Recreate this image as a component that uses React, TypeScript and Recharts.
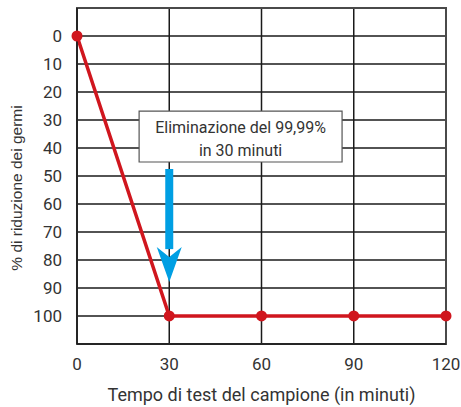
import { LineChart, Line, XAxis, YAxis, CartesianGrid, ReferenceArea, ReferenceLine, Label } from "recharts";

const minutes = [0, 30, 60, 90, 120];
const reduction = [0, 99.99, 99.99, 99.99, 99.99];
const yTicks = [0, 10, 20, 30, 40, 50, 60, 70, 80, 90, 100];
const noteLines = ["Eliminazione del 99,99%", "in 30 minuti"];
const noteBox = { x1: 20.2, x2: 86.2, y1: 26.8, y2: 45 };
const arrowFrom = 47.5;
const arrowTo = 87.9;

const data = minutes.map((m, i) => ({ min: m, pct: reduction[i] }));

const FONT = "Roboto, 'DejaVu Sans', sans-serif";
const RED = "#d0161e";
const BLUE = "#009fe3";

function ArrowShape(props: any) {
  const { x1, y1, x2, y2 } = props;
  if (x1 == null) return null;
  const headLen = 35;
  const headW = 12.5;
  const neck = y2 - headLen;
  return (
    <g>
      <line x1={x1} y1={y1} x2={x2} y2={neck + 2} stroke={BLUE} strokeWidth={8} />
      <path
        d={`M${x2 - headW},${neck} L${x2},${neck + 10} L${x2 + headW},${neck} L${x2},${y2} Z`}
        fill={BLUE}
      />
    </g>
  );
}

function NoteLabel(props: any) {
  const vb = props.viewBox;
  if (!vb) return null;
  const cx = vb.x + vb.width / 2;
  const cy = vb.y + vb.height / 2;
  return (
    <text x={cx} textAnchor="middle" fontFamily={FONT} fontSize={16} fill="#333">
      <tspan x={cx} y={cy - 4}>{noteLines[0]}</tspan>
      <tspan x={cx} y={cy + 19}>{noteLines[1]}</tspan>
    </text>
  );
}

function YTitle(props: any) {
  const vb = props.viewBox;
  if (!vb) return null;
  const x = vb.x + 16;
  const y = vb.y + vb.height / 2 + 12;
  return (
    <text
      x={x}
      y={y}
      transform={`rotate(-90, ${x}, ${y})`}
      textAnchor="middle"
      dominantBaseline="central"
      fontFamily="'Liberation Sans', Arial, sans-serif"
      fontSize={15.5}
      fill="#333"
    >
      % di riduzione dei germi
    </text>
  );
}

export default function App() {
  return (
    <div style={{ position: "absolute", left: 0, top: 0, background: "#fff" }}>
      <LineChart width={461} height={407} data={data} margin={{ top: 8, right: 15, left: 0, bottom: 0 }}>
        <CartesianGrid stroke="#1a1a1a" strokeWidth={1.5} />
        <ReferenceArea x1={0} x2={120} y1={-10} y2={110} fill="none" stroke="#4a4a4a" strokeWidth={2} ifOverflow="visible" />
        <XAxis
          dataKey="min"
          type="number"
          domain={[0, 120]}
          ticks={minutes}
          height={63}
          tickSize={0}
          tickMargin={14}
          axisLine={{ stroke: "#1a1a1a", strokeWidth: 1.5 }}
          tick={{ fontSize: 17, fill: "#333", fontFamily: FONT }}
        >
          <Label
            value="Tempo di test del campione (in minuti)"
            position="insideBottom"
            offset={6}
            style={{ fontSize: 18, fill: "#333", fontFamily: FONT }}
          />
        </XAxis>
        <YAxis
          type="number"
          reversed
          domain={[-10, 110]}
          ticks={yTicks}
          interval={0}
          width={77}
          tickSize={0}
          tickMargin={15}
          axisLine={{ stroke: "#1a1a1a", strokeWidth: 1.5 }}
          tick={{ fontSize: 17, fill: "#333", fontFamily: FONT }}
        >
          <Label content={<YTitle />} />
        </YAxis>
        <ReferenceArea
          x1={noteBox.x1}
          x2={noteBox.x2}
          y1={noteBox.y1}
          y2={noteBox.y2}
          fill="#fff"
          fillOpacity={1}
          stroke="#555"
          strokeWidth={1.2}
          label={<NoteLabel />}
        />
        <ReferenceLine
          segment={[{ x: 30, y: arrowFrom }, { x: 30, y: arrowTo }]}
          shape={<ArrowShape />}
        />
        <Line
          dataKey="pct"
          type="linear"
          stroke={RED}
          strokeWidth={3.5}
          dot={{ r: 5.5, fill: RED, stroke: RED, strokeWidth: 0 }}
          activeDot={false}
          isAnimationActive={false}
        />
      </LineChart>
    </div>
  );
}
